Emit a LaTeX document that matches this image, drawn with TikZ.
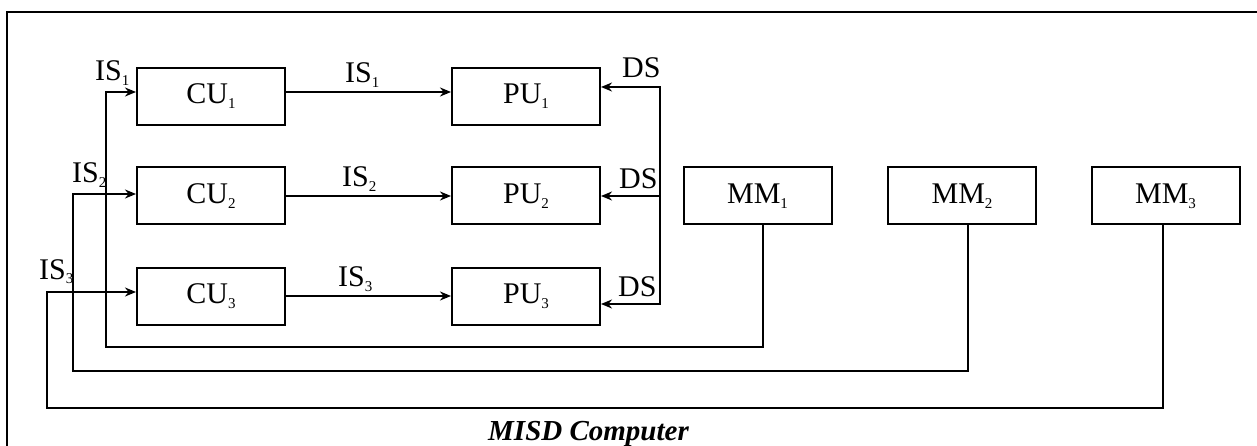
\documentclass[tikz,border=0pt]{standalone}
\usepackage{fontspec}
\setmainfont{Liberation Serif}
\usetikzlibrary{arrows.meta,calc}
\newcommand{\sbs}[1]{\raisebox{-5pt}{\fontsize{15}{15}\selectfont #1}}
\begin{document}
\begin{tikzpicture}[x=1pt,y=-1pt,
  font=\fontsize{30}{32}\selectfont,
  box/.style={draw, line width=2pt, minimum width=148pt, minimum height=57pt, inner sep=0pt},
  wire/.style={line width=2pt},
  arr/.style={wire, -{Stealth[length=11pt,width=9pt]}},
  lbl/.style={inner sep=0pt, anchor=base west}]
\useasboundingbox (0,0) rectangle (1257,446);
% frame
\draw[wire] (1257,12) -- (7,12) -- (7,446);
% boxes
\node[box] (CU1) at (211,96.5) {CU\sbs{1}};
\node[box] (CU2) at (211,196) {CU\sbs{2}};
\node[box] (CU3) at (211,296) {CU\sbs{3}};
\node[box] (PU1) at (526,96.5) {PU\sbs{1}};
\node[box] (PU2) at (526,196) {PU\sbs{2}};
\node[box] (PU3) at (526,296) {PU\sbs{3}};
\node[box] (MM1) at (757.5,196) {MM\sbs{1}};
\node[box] (MM2) at (962,196) {MM\sbs{2}};
\node[box] (MM3) at (1165.5,196) {MM\sbs{3}};
% CU -> PU
\draw[arr] ([yshift=4.5pt]CU1.east) -- ([yshift=4.5pt]PU1.west);
\draw[arr] (CU2.east) -- (PU2.west);
\draw[arr] (CU3.east) -- (PU3.west);
% feedback from MM to CU
\coordinate (b1) at (106,347);
\coordinate (b2) at (73,371);
\coordinate (b3) at (47,408);
\draw[arr] ([xshift=5.5pt]MM1.south) |- (b1) |- ([yshift=4.5pt]CU1.west);
\draw[arr] ([xshift=6pt]MM2.south) |- (b2) |- ([yshift=2pt]CU2.west);
\draw[arr] ([xshift=-2.5pt]MM3.south) |- (b3) |- ([yshift=4pt]CU3.west);
% data stream
\coordinate (d1) at (660,87);
\coordinate (d2) at (660,196);
\coordinate (d3) at (660,304);
\draw[arr] (d2) -- (d1) -- (d1 -| PU1.east);
\draw[arr] (d2) -- (d3) -- (d3 -| PU3.east);
\draw[arr] (d2) -- (PU2.east);
% labels
\node[lbl] (is1l) at (95,81) {IS\sbs{1}};
\node[lbl] (is2l) at (72,183) {IS\sbs{2}};
\node[lbl] (is3l) at (39,279) {IS\sbs{3}};
\node[lbl] (is1t) at (345,83) {IS\sbs{1}};
\node[lbl] (is2t) at (342,187) {IS\sbs{2}};
\node[lbl] (is3t) at (338,286) {IS\sbs{3}};
\node[lbl] (ds1) at (622,78) {DS};
\node[lbl] (ds2) at (619,189) {DS};
\node[lbl] (ds3) at (618,296) {DS};
\node[lbl, font=\fontsize{29}{30}\selectfont\bfseries\itshape] (title) at (488,440) {MISD Computer};
\end{tikzpicture}
\end{document}
